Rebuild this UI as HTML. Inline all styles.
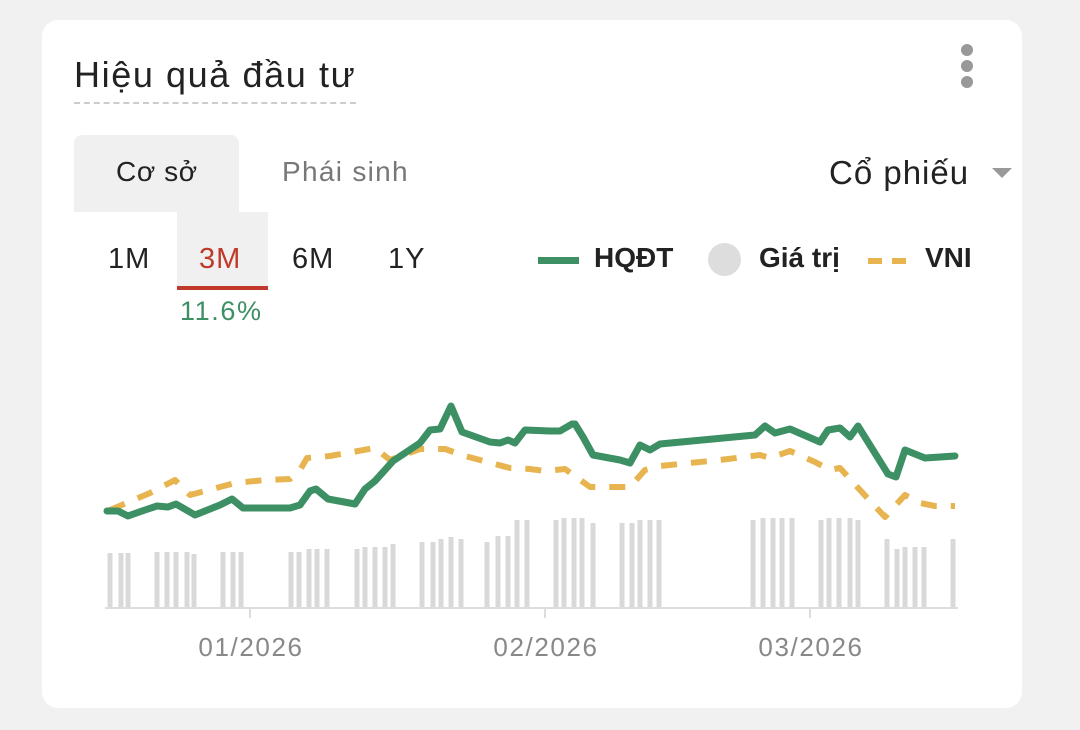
<!DOCTYPE html><html><head><meta charset="utf-8"><style>
body{margin:0;width:1080px;height:730px;background:#f1f1f1;font-family:"Liberation Sans",sans-serif;overflow:hidden;position:relative}
.card{position:absolute;left:42px;top:20px;width:980px;height:688px;background:#fff;border-radius:16px}
.t{position:absolute;white-space:nowrap}
</style></head><body>
<div class="card"></div>
<div class="t" style="left:74px;top:54px;font-size:36px;letter-spacing:1.6px;color:#222;border-bottom:2px dashed #ccc;padding-bottom:6px">Hiệu quả đầu tư</div>
<div class="t" style="left:961px;top:44px;width:12px;height:12px;border-radius:6px;background:#999"></div>
<div class="t" style="left:961px;top:60px;width:12px;height:12px;border-radius:6px;background:#999"></div>
<div class="t" style="left:961px;top:76px;width:12px;height:12px;border-radius:6px;background:#999"></div>
<div class="t" style="left:74px;top:135px;width:165px;height:77px;background:#f0f0f0;border-radius:8px 8px 0 0"></div>
<div class="t" style="left:116px;top:156px;font-size:28px;letter-spacing:0.6px;color:#222">Cơ sở</div>
<div class="t" style="left:282px;top:156px;font-size:28px;letter-spacing:1.3px;color:#777">Phái sinh</div>
<div class="t" style="left:829px;top:154px;font-size:33px;letter-spacing:1px;color:#222">Cổ phiếu</div>
<div class="t" style="left:992px;top:168px;width:0;height:0;border-left:10px solid transparent;border-right:10px solid transparent;border-top:10px solid #999"></div>
<div class="t" style="left:177px;top:212px;width:91px;height:76px;background:#f0f0f0"></div>
<div class="t" style="left:177px;top:286px;width:91px;height:4px;background:#c0392b"></div>
<div class="t" style="left:108px;top:243px;font-size:29px;letter-spacing:1px;color:#222">1M</div>
<div class="t" style="left:199px;top:243px;font-size:29px;letter-spacing:1px;color:#c0392b">3M</div>
<div class="t" style="left:292px;top:243px;font-size:29px;letter-spacing:1px;color:#222">6M</div>
<div class="t" style="left:388px;top:243px;font-size:29px;letter-spacing:1px;color:#222">1Y</div>
<div class="t" style="left:180px;top:296px;font-size:27px;letter-spacing:1.6px;color:#3d8f64">11.6%</div>
<div class="t" style="left:538px;top:257px;width:41px;height:7px;background:#3d8f64"></div>
<div class="t" style="left:594px;top:242px;font-size:28px;font-weight:bold;color:#222">HQĐT</div>
<div class="t" style="left:708px;top:243px;width:33px;height:33px;border-radius:50%;background:#ddd"></div>
<div class="t" style="left:759px;top:242px;font-size:28px;font-weight:bold;color:#222">Giá trị</div>
<svg class="t" style="left:866px;top:255px" width="48" height="12"><line x1="2" y1="6" x2="46" y2="6" stroke="#e8b44f" stroke-width="6" stroke-dasharray="14 10"/></svg>
<div class="t" style="left:925px;top:242px;font-size:28px;font-weight:bold;color:#222">VNI</div>
<svg class="t" style="left:0;top:0" width="1080" height="730">
<g stroke="#d9d9d9" stroke-width="5">
<line x1="110" y1="608" x2="110" y2="553"/><line x1="121" y1="608" x2="121" y2="553"/><line x1="128" y1="608" x2="128" y2="553"/>
<line x1="157" y1="608" x2="157" y2="552"/><line x1="167" y1="608" x2="167" y2="552"/><line x1="176" y1="608" x2="176" y2="552"/><line x1="187" y1="608" x2="187" y2="552"/><line x1="194" y1="608" x2="194" y2="554"/>
<line x1="223" y1="608" x2="223" y2="552"/><line x1="233" y1="608" x2="233" y2="552"/><line x1="241" y1="608" x2="241" y2="552"/>
<line x1="291" y1="608" x2="291" y2="552"/><line x1="299" y1="608" x2="299" y2="552"/><line x1="309" y1="608" x2="309" y2="549"/><line x1="317" y1="608" x2="317" y2="549"/><line x1="327" y1="608" x2="327" y2="549"/>
<line x1="357" y1="608" x2="357" y2="549"/><line x1="365" y1="608" x2="365" y2="547"/><line x1="375" y1="608" x2="375" y2="547"/><line x1="385" y1="608" x2="385" y2="547"/><line x1="393" y1="608" x2="393" y2="544"/>
<line x1="422" y1="608" x2="422" y2="542"/><line x1="433" y1="608" x2="433" y2="542"/><line x1="441" y1="608" x2="441" y2="539"/><line x1="451" y1="608" x2="451" y2="537"/><line x1="461" y1="608" x2="461" y2="539"/>
<line x1="487" y1="608" x2="487" y2="542"/><line x1="498" y1="608" x2="498" y2="536"/><line x1="508" y1="608" x2="508" y2="536"/><line x1="517" y1="608" x2="517" y2="520"/><line x1="527" y1="608" x2="527" y2="520"/>
<line x1="556" y1="608" x2="556" y2="520"/><line x1="564" y1="608" x2="564" y2="518"/><line x1="574" y1="608" x2="574" y2="518"/><line x1="582" y1="608" x2="582" y2="518"/><line x1="593" y1="608" x2="593" y2="523"/>
<line x1="622" y1="608" x2="622" y2="523"/><line x1="632" y1="608" x2="632" y2="523"/><line x1="640" y1="608" x2="640" y2="520"/><line x1="650" y1="608" x2="650" y2="520"/><line x1="659" y1="608" x2="659" y2="520"/>
<line x1="753" y1="608" x2="753" y2="520"/><line x1="763" y1="608" x2="763" y2="518"/><line x1="773" y1="608" x2="773" y2="518"/><line x1="782" y1="608" x2="782" y2="518"/><line x1="792" y1="608" x2="792" y2="518"/>
<line x1="821" y1="608" x2="821" y2="520"/><line x1="829" y1="608" x2="829" y2="518"/><line x1="839" y1="608" x2="839" y2="518"/><line x1="850" y1="608" x2="850" y2="518"/><line x1="858" y1="608" x2="858" y2="520"/>
<line x1="887" y1="608" x2="887" y2="539"/><line x1="897" y1="608" x2="897" y2="549"/><line x1="905" y1="608" x2="905" y2="547"/><line x1="915" y1="608" x2="915" y2="547"/><line x1="924" y1="608" x2="924" y2="547"/>
<line x1="953" y1="608" x2="953" y2="539"/>
</g>
<line x1="105" y1="608" x2="958" y2="608" stroke="#ddd" stroke-width="2"/>
<g stroke="#ddd" stroke-width="2"><line x1="250" y1="608" x2="250" y2="618"/><line x1="545" y1="608" x2="545" y2="618"/><line x1="810" y1="608" x2="810" y2="618"/></g>
<polyline fill="none" stroke="#e8b44f" stroke-width="6" stroke-dasharray="16 14" stroke-linejoin="round" points="110,510 150,493 175,480 190,495 235,483 265,480 290,479 300,470 307,458 330,456 358,451 375,448 390,460 420,449 445,449 465,456 510,468 530,469 545,471 565,469 590,487 630,487 645,470 660,466 720,460 760,455 770,458 790,451 815,462 830,470 840,468 860,490 885,517 905,495 920,503 935,506 955,506"/>
<polyline fill="none" stroke="#3d8f64" stroke-width="7" stroke-linejoin="round" stroke-linecap="round" points="107,511 118,511 128,516 145,510 157,506 168,507 176,504 195,515 220,505 232,499 243,508 290,508 300,505 310,491 316,489 328,499 355,504 365,489 375,481 393,461 420,443 430,430 440,429 451,406 462,432 490,442 500,443 508,440 515,443 525,430 550,431 560,431 572,424 575,424 583,437 593,455 620,460 630,463 640,445 650,450 660,444 755,435 765,426 775,433 790,429 820,442 828,430 840,428 850,437 858,426 888,474 896,477 905,450 925,458 955,456"/>
<g font-size="26" fill="#888" text-anchor="middle" letter-spacing="1.6" font-family="Liberation Sans,sans-serif"><text x="251" y="656">01/2026</text><text x="546" y="656">02/2026</text><text x="811" y="656">03/2026</text></g>
</svg>
</body></html>
